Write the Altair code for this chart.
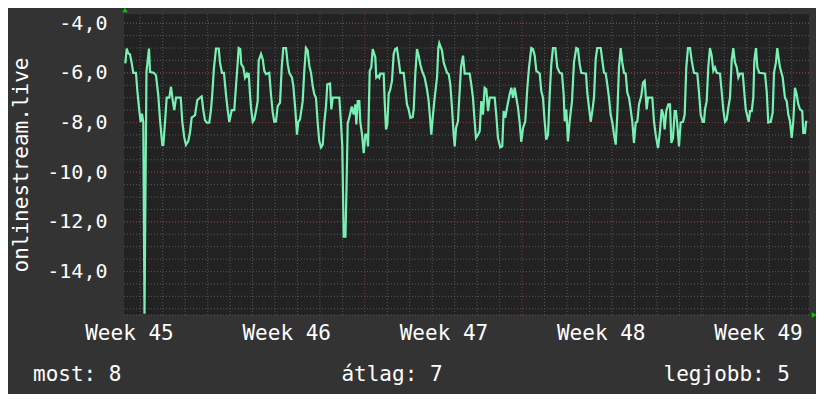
import altair as alt
import pandas as pd

# ---- data (hours since Monday 00:00 of week 45, value) ----
hours = [
    80.1, 81.6, 83.3, 85.1, 86.9, 88.6, 91.5, 92.9, 95.0, 96.5, 97.9, 99.3, 100.6, 102.7, 105.4, 106.5,
    110.8, 112.9, 115.3, 117.2, 119.6, 120.7, 122.5, 124.3, 127.1, 128.9, 130.7, 132.4, 134.3, 139.3,
    141.0, 143.1, 144.9, 147.4, 149.2, 151.0, 154.6, 157.0, 159.9, 161.7, 163.4, 165.2, 167.1, 169.8,
    171.6, 173.0, 174.8, 177.0, 179.9, 181.3, 183.4, 185.5, 187.7, 189.5, 191.2, 193.8, 196.5, 198.4,
    200.2, 201.2, 202.9, 204.0, 206.2, 208.0, 209.8, 210.9, 211.9, 213.3, 214.4, 216.2, 217.9, 219.7,
    221.5, 222.6, 225.1, 226.9, 228.6, 230.4, 233.9, 235.7, 237.6, 239.3, 241.1, 242.9, 245.4, 247.2,
    248.9, 251.8, 253.6, 255.3, 258.2, 259.6, 261.7, 263.5, 264.9, 266.7, 269.6, 271.3, 273.1, 274.9,
    276.7, 278.5, 280.3, 282.0, 283.8, 285.6, 287.3, 289.2, 291.0, 292.7, 294.5, 295.9, 298.8, 300.2,
    301.7, 308.7, 310.5, 311.9, 313.4, 315.3, 316.4, 317.7, 320.1, 322.0, 324.1, 325.8, 326.9, 328.4,
    330.1, 331.1, 333.0, 334.8, 336.5, 338.3, 339.4, 341.2, 342.9, 344.4, 346.1, 347.2, 348.2, 350.1,
    351.4, 352.5, 356.1, 357.2, 358.6, 360.0, 361.5, 363.2, 365.0, 366.8, 368.5, 370.3, 372.2, 373.9,
    377.5, 379.2, 381.0, 382.8, 384.6, 387.1, 388.2, 389.9, 391.7, 393.5, 395.2, 397.1, 399.9, 402.4,
    404.2, 405.9, 407.0, 408.8, 410.6, 413.1, 414.5, 415.5, 418.4, 420.2, 423.8, 425.6, 427.3, 429.1,
    430.9, 432.0, 433.4, 435.5, 436.9, 438.7, 440.9, 442.7, 448.0, 449.7, 451.5, 453.4, 454.7, 456.9,
    458.7, 460.4, 462.2, 464.0, 465.8, 467.6, 469.4, 474.7, 476.4, 478.2, 480.7, 482.8, 484.3, 486.0,
    488.2, 490.7, 492.5, 494.3, 496.1, 497.8, 499.6, 501.4, 503.1, 505.0, 507.4, 509.6, 511.4, 513.8,
    515.6, 517.5, 519.2, 522.8, 524.5, 526.3, 528.1, 529.8, 531.7, 533.5, 535.2, 537.0, 539.5, 541.6,
    544.2, 546.6, 548.4, 549.5, 551.2, 553.0, 554.8, 557.3, 559.4, 561.9, 563.7, 565.5, 567.2, 572.3,
    573.6, 575.5, 577.3, 579.0, 580.8, 582.6, 584.3, 588.0, 589.7, 591.5, 593.3, 595.0, 596.8, 598.6,
    600.4, 602.2, 604.0, 605.7, 607.5, 609.3, 611.0, 612.9, 614.7, 616.4, 618.2, 620.0, 621.7, 623.5,
    625.4, 627.1, 628.9, 631.3, 633.2, 635.0, 637.1, 638.5, 643.1, 644.9, 646.7, 649.2, 651.3, 653.1,
    654.8, 656.3, 658.0, 660.2, 662.0, 663.4, 665.2, 667.0, 668.4, 669.8, 671.6, 673.4, 675.9, 677.7,
    679.4, 681.2, 683.4, 685.2, 687.6, 691.2, 693.0, 694.8, 696.9, 698.3, 699.4, 701.2, 702.9, 704.7,
    706.5, 708.3, 710.1, 711.9, 715.4, 717.2, 718.9, 720.8, 722.6, 724.3, 726.1, 727.9, 729.6, 731.4,
    733.3, 735.0, 736.8, 739.7, 741.1, 742.9, 744.6, 746.1, 747.5, 749.3, 751.0, 752.1, 753.9, 755.3,
    757.4, 763.5, 765.3, 767.0, 769.6, 771.7, 773.1, 775.2, 776.6, 778.4, 779.5, 782.4, 784.8, 786.7,
    788.4, 790.2, 792.0, 793.7, 795.5, 797.3, 799.1, 800.9, 803.3, 804.4, 806.2, 807.3, 808.7,
]
values = [
    -5.62, -5.02, -5.22, -5.25, -5.6, -6.0, -6.0, -6.7, -7.5, -7.98, -7.64, -7.98, -15.7, -5.96, -5.02, -5.96,
    -6.0, -6.1, -6.9, -7.9, -8.9, -8.9, -8.0, -7.0, -7.0, -6.56, -7.1, -7.5, -7.0, -7.0,
    -7.98, -8.6, -8.9, -8.75, -8.4, -7.8, -7.7, -7.1, -7.0, -6.95, -7.5, -7.9, -8.0, -8.0,
    -7.5, -6.85, -5.8, -5.02, -5.02, -5.6, -6.0, -6.0, -6.9, -7.5, -7.98, -7.5, -7.5, -6.5,
    -5.58, -5.0, -5.04, -5.65, -5.78, -6.19, -6.05, -6.19, -6.0, -6.86, -7.4, -7.97, -7.88, -7.54,
    -7.14, -5.51, -5.24, -5.45, -5.92, -6.05, -6.0, -6.86, -7.6, -7.97, -7.95, -7.34, -7.2, -5.78,
    -5.0, -5.0, -5.65, -6.0, -6.19, -6.53, -7.47, -8.49, -7.97, -7.88, -7.14, -5.92, -5.0, -5.1,
    -5.72, -6.0, -6.53, -6.86, -7.0, -8.0, -8.76, -9.0, -8.89, -8.0, -7.34, -6.46, -6.43, -7.47,
    -7.0, -7.0, -8.0, -8.95, -12.6, -12.6, -10.65, -8.04, -7.7, -7.35, -7.68, -7.27, -8.08, -7.14,
    -7.14, -7.95, -8.49, -9.23, -8.49, -8.49, -8.96, -5.92, -5.78, -5.04, -5.24, -5.38, -6.19, -6.12,
    -6.19, -6.03, -6.03, -7.14, -8.28, -8.08, -6.86, -6.66, -6.32, -5.24, -5.04, -5.0, -5.51, -6.0,
    -6.0, -6.6, -7.27, -7.47, -7.81, -7.78, -7.47, -6.05, -5.04, -5.31, -5.65, -5.92, -6.19, -6.66,
    -7.14, -7.95, -8.49, -7.68, -7.0, -6.19, -5.0, -4.8, -5.1, -5.58, -6.0, -6.05, -6.46, -7.4,
    -8.49, -8.96, -8.22, -7.95, -7.0, -5.78, -5.31, -6.03, -6.03, -6.46, -7.0, -8.0, -8.62, -8.49,
    -8.35, -7.14, -7.68, -6.6, -6.66, -7.54, -7.0, -7.0, -7.68, -8.62, -9.0, -8.96, -7.54, -7.81,
    -7.34, -6.86, -6.6, -7.0, -6.6, -7.0, -7.4, -8.0, -8.78, -8.22, -7.95, -6.6, -5.78, -5.0,
    -5.04, -5.31, -5.92, -6.03, -6.73, -7.0, -7.95, -8.69, -8.49, -6.86, -5.65, -5.0, -5.0, -5.78,
    -6.0, -6.03, -6.86, -7.95, -7.47, -8.76, -7.95, -7.14, -5.58, -5.0, -5.04, -5.65, -6.0, -6.03,
    -6.8, -7.4, -7.97, -7.54, -7.0, -5.45, -5.0, -5.0, -5.51, -6.0, -6.03, -6.46, -7.0, -7.68,
    -8.0, -8.49, -8.89, -7.68, -5.78, -5.0, -5.58, -6.0, -6.03, -6.8, -7.0, -7.47, -7.95, -8.82,
    -8.0, -7.97, -7.27, -6.93, -6.39, -6.32, -7.47, -7.0, -7.0, -7.95, -8.49, -9.03, -8.35, -7.47,
    -7.68, -8.28, -7.54, -7.27, -7.27, -8.82, -8.62, -7.54, -7.54, -8.08, -8.96, -8.0, -7.97, -7.68,
    -5.78, -5.0, -5.0, -5.51, -6.0, -6.03, -6.8, -7.68, -7.97, -7.97, -7.47, -7.14, -5.78, -5.0,
    -5.31, -5.92, -5.78, -6.0, -6.03, -6.73, -7.47, -7.97, -7.88, -7.4, -7.0, -5.51, -5.0, -5.58,
    -5.78, -6.19, -6.03, -6.03, -6.66, -7.47, -7.74, -7.97, -7.54, -7.54, -7.0, -5.51, -5.0, -5.78,
    -6.0, -6.03, -6.73, -8.0, -7.97, -7.6, -6.0, -5.58, -5.0, -5.51, -5.78, -6.19, -7.0, -7.14,
    -7.68, -7.95, -8.62, -7.97, -6.6, -6.86, -7.27, -7.47, -7.54, -8.42, -8.42, -7.97, -7.97,
]

week_labels = ["Week 45", "Week 46", "Week 47", "Week 48", "Week 49"]
week_mid_hours = [84, 252, 420, 588, 756]
week_start_hours = [168, 336, 504, 672]
day_hours = [96, 120, 144, 192, 216, 240, 264, 288, 312, 360, 384, 408, 432, 456, 480,
             528, 552, 576, 600, 624, 648, 696, 720, 744, 768, 792]
y_ticks = [-14, -12, -10, -8, -6, -4]
y_minor = [-15.5, -15.0, -14.5, -14.0, -13.5, -13.0, -12.5, -12.0, -11.5, -11.0, -10.5, -10.0,
           -9.5, -9.0, -8.5, -8.0, -7.5, -7.0, -6.5, -6.0, -5.5, -5.0, -4.5, -4.0]
summary_texts = ["most: 8", "átlag: 7", "legjobb: 5"]
y_title = "onlinestream.live"

# ---- style ----
W, H = 685, 301
FONT = "DejaVu Sans Mono"
BG = "#333333"
PLOT_BG = "#222222"
LINE = "#78f0b4"
MINOR = "#585858"
MAJOR = "#8a3a3a"
ARROW = "#00cc00"

xs = alt.Scale(domain=[78.7, 810.5], nice=False, zero=False)
ys = alt.Scale(domain=[-15.75, -3.63], nice=False, zero=False)

label_arr = "[" + ",".join("'" + s + "'" for s in week_labels) + "]"
x_axis = alt.Axis(
    values=week_mid_hours,
    labelExpr=label_arr + "[round((datum.value - 84) / 168)]",
    title=None, grid=False, ticks=False, tickSize=0, domain=False,
    labelFont=FONT, labelFontSize=21, labelColor="#ffffff",
    labelPadding=24, labelBaseline="alphabetic", labelFlush=False, labelOverlap=False,
)
y_axis = alt.Axis(
    values=y_ticks,
    labelExpr="datum.value + ',0'",
    title=y_title, grid=False, ticks=False, tickSize=0, domain=False,
    labelFont=FONT, labelFontSize=20, labelColor="#ffffff", labelPadding=17,
    labelFlush=False, labelOverlap=False, labelBaseline="middle",
    titleFont=FONT, titleFontSize=21, titleFontWeight="normal", titleColor="#ffffff",
    titleAngle=-90, titleX=-97, titleY=H / 2, titleAlign="center", titleBaseline="alphabetic",
)

df_line = pd.DataFrame({"hour": hours, "value": values})

h_minor = alt.Chart(pd.DataFrame({"value": y_minor})).mark_rule(
    color=MINOR, strokeDash=[1, 2], strokeWidth=1
).encode(y=alt.Y("value:Q", scale=ys, axis=y_axis))
h_major = alt.Chart(pd.DataFrame({"value": y_ticks})).mark_rule(
    color=MAJOR, strokeDash=[1, 2], strokeWidth=1
).encode(y=alt.Y("value:Q", scale=ys, axis=y_axis))
v_minor = alt.Chart(pd.DataFrame({"hour": day_hours})).mark_rule(
    color=MINOR, strokeDash=[1, 2], strokeWidth=1
).encode(x=alt.X("hour:Q", scale=xs, axis=x_axis))
v_major = alt.Chart(pd.DataFrame({"hour": week_start_hours})).mark_rule(
    color=MAJOR, strokeDash=[1, 2], strokeWidth=1
).encode(x=alt.X("hour:Q", scale=xs, axis=x_axis))

one = pd.DataFrame({"a": [0]})
bottom_line = alt.Chart(one).mark_rule(color=MINOR, strokeDash=[1, 2], strokeWidth=1).encode(
    y=alt.value(H), x=alt.value(0), x2=alt.value(W)
)

line = alt.Chart(df_line).mark_line(color=LINE, strokeWidth=2.2, clip=True).encode(
    x=alt.X("hour:Q", scale=xs, axis=x_axis),
    y=alt.Y("value:Q", scale=ys, axis=y_axis),
)

arrow_up = alt.Chart(one).mark_point(shape="triangle-up", filled=True, color=ARROW, size=28, opacity=1).encode(
    x=alt.value(1), y=alt.value(-4)
)
arrow_right = alt.Chart(one).mark_point(shape="triangle-right", filled=True, color=ARROW, size=28, opacity=1).encode(
    x=alt.value(W + 5), y=alt.value(H)
)

df_txt = pd.DataFrame({"t": summary_texts})
txt_left = alt.Chart(df_txt.iloc[[0]]).mark_text(
    align="left", baseline="alphabetic", font=FONT, fontSize=21, color="#ffffff"
).encode(text="t:N", x=alt.value(-91), y=alt.value(367))
txt_mid = alt.Chart(df_txt.iloc[[1]]).mark_text(
    align="center", baseline="alphabetic", font=FONT, fontSize=21, color="#ffffff"
).encode(text="t:N", x=alt.value(268), y=alt.value(367))
txt_right = alt.Chart(df_txt.iloc[[2]]).mark_text(
    align="right", baseline="alphabetic", font=FONT, fontSize=21, color="#ffffff"
).encode(text="t:N", x=alt.value(666), y=alt.value(367))

chart = alt.layer(
    h_minor, v_minor, h_major, v_major, bottom_line, line,
    arrow_up, arrow_right, txt_left, txt_mid, txt_right,
).properties(
    width=W, height=H,
    autosize=alt.AutoSizeParams(type="none"),
    padding={"left": 116, "top": 6, "right": 7, "bottom": 79},
).configure(
    background=BG,
).configure_view(
    fill=PLOT_BG, strokeWidth=0,
)

chart.save("out.html", embed_options={"renderer": "svg", "actions": False})
